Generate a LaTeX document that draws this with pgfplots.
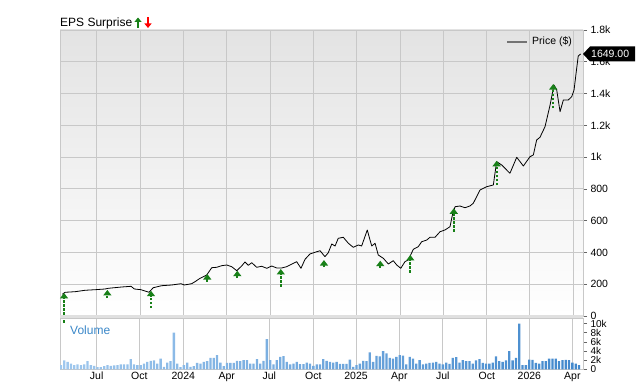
\documentclass[border=0pt]{standalone}
\usepackage{pgfplots}
\pgfplotsset{compat=1.18}
\usepackage{fontspec}
\setmainfont{Liberation Sans}
\usetikzlibrary{arrows.meta}
\definecolor{gridc}{RGB}{200,200,200}
\definecolor{epsg}{RGB}{24,128,24}
\definecolor{volb}{RGB}{66,136,204}
\definecolor{voll}{RGB}{160,200,238}
\definecolor{vollab}{RGB}{58,135,200}

\pgfplotstableread{
x y
-8.38 136.6
-8.19 149.2
-7.50 152.9
-6.81 161.8
-6.11 165.5
-5.42 169.9
-5.19 174.3
-4.27 182.5
-3.62 186.9
-3.39 169.9
-2.93 165.5
-2.38 149.2
-2.08 178.1
-1.50 190.7
-0.80 195.1
-0.16 203.3
0.07 195.1
0.58 203.3
0.81 215.9
1.16 237.3
1.62 258.1
1.97 304.0
2.31 306.5
2.66 316.6
3.01 321.0
3.35 310.3
3.70 285.1
4.04 314.7
4.27 339.9
4.50 319.1
4.74 335.5
5.08 306.5
5.43 312.8
5.78 300.2
6.12 314.7
6.47 302.1
6.81 302.1
7.16 310.3
7.62 331.7
7.85 341.8
8.15 300.2
8.43 356.9
8.77 390.2
9.12 400.9
9.47 411.0
9.81 373.2
10.04 398.4
10.28 453.2
10.51 440.6
10.73 489.0
11.08 495.3
11.43 457.6
11.77 432.4
12.12 446.9
12.35 440.6
12.74 541.3
12.93 478.3
13.05 440.6
13.28 457.6
13.50 383.9
13.85 363.2
14.20 327.3
14.54 348.1
14.78 321.0
15.06 300.2
15.35 341.8
15.58 352.5
15.93 419.8
16.27 436.2
16.51 467.6
16.86 478.3
17.08 495.3
17.43 495.3
17.78 530.6
18.12 541.3
18.47 562.1
18.66 646.4
18.82 687.9
19.16 692.3
19.51 681.6
19.85 692.3
20.08 709.3
20.55 793.0
21.01 813.8
21.47 824.5
21.70 971.2
22.05 950.4
22.62 898.2
23.09 998.9
23.55 944.1
24.01 1002.6
24.24 1013.3
24.47 1107.7
24.70 1124.7
25.05 1191.5
25.40 1328.0
25.67 1453.9
25.86 1422.4
26.09 1285.9
26.32 1359.5
26.66 1359.5
26.90 1380.3
27.06 1422.4
27.20 1527.6
27.35 1636.4
27.52 1649.0
}\pricetable

\pgfplotstableread{
x y v
-8.26 -44 189
-5.26 113 51
-2.24 50 109
1.66 214 50
3.74 239 46
6.75 184 112
9.74 308 44
13.64 302 46
15.72 271 113
18.73 531 147
21.70 824 153
25.62 1309 151
}\epstable

\begin{document}
\begin{tikzpicture}[x=1pt,y=1pt]
\useasboundingbox (0pt,0pt) rectangle (640pt,382pt);
\begin{axis}[
  at={(60pt,66pt)}, anchor=south west, scale only axis,
  width=523pt, height=286pt,
  xmin=-8.54, xmax=27.68, ymin=0, ymax=1800,
  xtick={-6,-3,...,27}, xticklabel={\mbox{}},
  xtick style={draw=none},
  ytick={0,200,...,1800},
  yticklabels={0,200,400,600,800,1k,1.2k,1.4k,1.6k,1.8k},
  ytick pos=right, ytick align=outside,
  major tick length=4pt,
  ytick style={black!60, line width=0.6pt},
  grid=major, major grid style={gridc, line width=0.8pt},
  axis line style={gridc, line width=0.8pt},
  tick label style={font=\fontsize{10.5}{12}\selectfont},
  /pgf/number format/assume math mode=true,
  axis background/.style={top color=black!11, middle color=white, bottom color=white},
  clip=false,
]
\addplot[black, line width=0.8pt, line join=round] table[x=x,y=y] {\pricetable};
\addplot[epsg, line width=1.9pt, dash pattern=on 2.5pt off 1.5pt,
  -{Triangle[width=8pt,length=5.5pt]},
  quiver={u=0, v=\thisrow{v}}] table[x=x,y=y] {\epstable};
% price tag
\fill[black] (axis cs:27.68,1649) -- ++(7pt,7.5pt) -- ++(45pt,0pt) -- ++(0pt,-15pt) -- ++(-45pt,0pt) -- cycle;
\node[text=white, anchor=west, inner sep=0pt, font=\fontsize{10.5}{12}\selectfont] at ([xshift=8pt]axis cs:27.68,1649) {1649.00};
\end{axis}

\fill[black!12] (60pt,63pt) rectangle (583pt,66.5pt);

\begin{axis}[
  at={(60pt,12.5pt)}, anchor=south west, scale only axis,
  width=523pt, height=51.5pt,
  xmin=-0.30, xmax=157.2, ymin=0, ymax=11.2,
  xtick={10.75,23.58,36.84,49.91,62.74,75.99,88.86,101.9,114.97,128.22,141.05,154.0},
  xticklabels={Jul,Oct,2024,Apr,Jul,Oct,2025,Apr,Jul,Oct,2026,Apr},
  xtick style={draw=none},
  xticklabel style={yshift=1pt},
  ytick={0,2,...,10},
  yticklabels={0,2k,4k,6k,8k,10k},
  ytick pos=right, ytick align=outside,
  major tick length=4pt,
  ytick style={black!60, line width=0.6pt},
  xmajorgrids, major grid style={gridc, line width=0.8pt},
  axis line style={gridc, line width=0.8pt},
  tick label style={font=\fontsize{10.5}{11}\selectfont},
  yticklabel style={font=\fontsize{10}{10}\selectfont},
]
\addplot[ybar, bar shift=0pt, bar width=2.3pt, draw=none, left color=voll, right color=volb] coordinates {
(0,0.94) (1,1.96) (2,1.67) (3,1.30) (4,0.94) (5,1.09) (6,0.94) (7,1.09) (8,1.81) (9,0.94)
(10,0.80) (11,0.51) (12,0.51) (13,0.72) (14,0.94) (15,0.80) (16,0.87) (17,0.94) (18,1.09) (19,1.09)
(20,1.09) (21,2.25) (22,1.09) (23,0.94) (24,0.94) (25,1.30) (26,1.67) (27,1.88) (28,1.96) (29,1.30)
(30,2.39) (31,0.58) (32,1.52) (33,1.81) (34,8.04) (35,1.30) (36,0.51) (37,0.94) (38,1.52) (39,0.58)
(40,0.72) (41,1.45) (42,1.30) (43,1.67) (44,1.81) (45,2.54) (46,2.54) (47,3.12) (48,1.52) (49,0.72)
(50,1.45) (51,1.45) (52,1.45) (53,1.88) (54,1.81) (55,2.03) (56,2.03) (57,1.30) (58,1.30) (59,2.25)
(60,1.30) (61,1.88) (62,6.59) (63,2.03) (64,1.09) (65,2.03) (66,2.75) (67,2.90) (68,1.67) (69,1.09)
(70,1.30) (71,1.67) (72,1.16) (73,1.16) (74,1.52) (75,1.30) (76,0.80) (77,1.09)
(78,1.09) (79,2.25) (80,1.88) (81,1.67) (82,1.52) (83,1.67) (84,1.23) (85,1.23) (86,1.23) (87,2.17)
(88,0.58) (89,0.94) (90,1.30) (91,1.88) (92,1.81) (93,3.70) (94,1.67) (95,2.97) (96,2.83) (97,3.99)
(98,3.48) (99,2.54) (100,2.39) (101,2.75) (102,3.12) (103,3.04) (104,1.09) (105,2.75) (106,2.39) (107,1.30)
(108,2.03) (109,1.09) (110,1.30) (111,1.45) (112,1.52) (113,1.67) (114,1.30) (115,1.09) (116,1.52) (117,1.23)
(118,2.54) (119,2.68) (120,1.52) (121,2.03) (122,1.81) (123,1.81) (124,1.30) (125,1.96) (126,2.25) (127,1.45)
(128,1.30) (129,1.30) (130,1.52) (131,2.83) (132,1.81) (133,1.67) (134,1.96) (135,3.99) (136,1.96) (137,2.54)
(138,10.0) (139,0.94) (140,0.94) (141,2.17) (142,2.10) (143,1.45) (144,1.30) (145,1.81) (146,1.81) (147,2.39)
(148,2.39) (149,2.39) (150,1.81) (151,2.03) (152,2.10) (153,2.03) (154,1.52) (155,1.30) (156,0.94)
};
\end{axis}

% titles and legend
\node[anchor=base west, inner sep=0pt, font=\fontsize{12}{14}\selectfont] at (60pt,355pt) {EPS Surprise};
\draw[epsg, line width=2.2pt, -{Triangle[width=7pt,length=4.5pt]}] (138pt,354pt) -- (138pt,364.5pt);
\draw[red, line width=2.2pt, -{Triangle[width=7pt,length=4.5pt]}] (148pt,364.5pt) -- (148pt,354pt);
\draw[black!55, line width=1.8pt] (507pt,340pt) -- (527pt,340pt);
\node[anchor=west, inner sep=0pt, font=\fontsize{10.5}{12}\selectfont] at (532pt,340pt) {Price (\$)};
\node[anchor=west, inner sep=0pt, text=vollab, font=\fontsize{12}{14}\selectfont] at (70pt,52pt) {Volume};
\end{tikzpicture}
\end{document}
